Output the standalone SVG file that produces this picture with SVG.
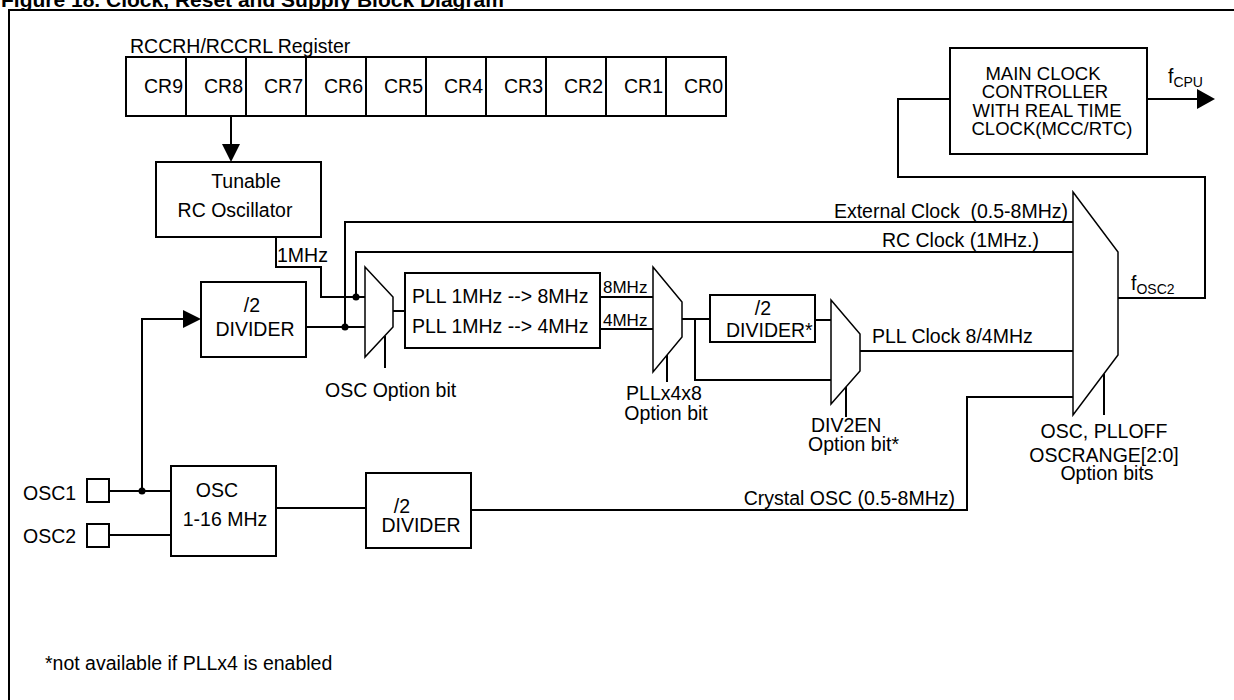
<svg xmlns="http://www.w3.org/2000/svg" width="1234" height="700" viewBox="0 0 1234 700">
<defs>
<style>
text{font-family:"Liberation Sans",Arial,Helvetica,sans-serif;font-size:19.5px;fill:#000}
.box{fill:#fff;stroke:#000;stroke-width:2}
.mux{fill:#fff;stroke:#000;stroke-width:1.5}
.w{fill:none;stroke:#000;stroke-width:2}
.dot{fill:#000}
.head{fill:#000}
.small{font-size:17px}
.sub{font-size:14px}
.mcc{font-size:18.5px}
.mid{text-anchor:middle}
.end{text-anchor:end}
</style>
</defs>
<rect x="0" y="0" width="1234" height="700" fill="#fff"/>
<text x="1" y="7" style="font-weight:bold;font-size:21px">Figure 18. Clock, Reset and Supply Block Diagram</text>
<rect x="9" y="10" width="1240" height="700" fill="none" stroke="#000" stroke-width="2"/>

<g id="connectors">
  <path class="w" d="M231,116 V146"/>
  <polygon class="head" points="222,144 240,144 231,162"/>
  <path class="w" d="M276,237 V267 H321 V297 H365"/>
  <path class="w" d="M356,297 V252 H1073"/>
  <path class="w" d="M345,327 V222 H1073"/>
  <path class="w" d="M306,327 H365"/>
  <circle class="dot" cx="356" cy="297" r="3.5"/>
  <circle class="dot" cx="345" cy="327" r="3.5"/>
  <path class="w" d="M142,491 V319 H186"/>
  <polygon class="head" points="183,310 183,328 201,319"/>
  <circle class="dot" cx="142" cy="491" r="3.5"/>
  <path class="w" d="M109,491 H171"/>
  <path class="w" d="M109,535 H171"/>
  <path class="w" d="M276,508 H366"/>
  <path class="w" d="M471,510 H967 V397 H1073"/>
  <path class="w" d="M393,311 H405"/>
  <path class="w" d="M385,336 V368"/>
  <path class="w" d="M600,297 H653"/>
  <path class="w" d="M600,329 H653"/>
  <path class="w" d="M667,355 V382"/>
  <path class="w" d="M682,319 H710"/>
  <path class="w" d="M695,319 V380 H831"/>
  <path class="w" d="M815,320 H831"/>
  <path class="w" d="M846,387 V417"/>
  <path class="w" d="M860,351 H1073"/>
  <path class="w" d="M1104,374 V415"/>
  <path class="w" d="M1118,298 H1205 V177 H898 V99 H950"/>
  <path class="w" d="M1147,99 H1200"/>
  <polygon class="head" points="1197,89 1197,109 1215,99"/>
</g>

<g id="register">
  <text x="130" y="53">RCCRH/RCCRL Register</text>
  <rect class="box" x="126" y="57" width="600" height="59"/>
  <path class="w" d="M186,57V116M246,57V116M306,57V116M366,57V116M426,57V116M486,57V116M546,57V116M606,57V116M666,57V116"/>
  <text class="end" x="183" y="93">CR9</text>
  <text class="end" x="243" y="93">CR8</text>
  <text class="end" x="303" y="93">CR7</text>
  <text class="end" x="363" y="93">CR6</text>
  <text class="end" x="423" y="93">CR5</text>
  <text class="end" x="483" y="93">CR4</text>
  <text class="end" x="543" y="93">CR3</text>
  <text class="end" x="603" y="93">CR2</text>
  <text class="end" x="663" y="93">CR1</text>
  <text class="end" x="723" y="93">CR0</text>
</g>

<g id="tunable-rc">
  <rect class="box" x="156" y="162" width="165" height="75"/>
  <text class="mid" x="246" y="188">Tunable</text>
  <text class="mid" x="235" y="217">RC Oscillator</text>
  <text x="277" y="262">1MHz</text>
</g>

<g id="divider-top">
  <rect class="box" x="201" y="282" width="105" height="75"/>
  <text class="mid" x="252" y="312">/2</text>
  <text class="mid" x="255" y="336">DIVIDER</text>
</g>

<g id="mux-osc">
  <polygon class="mux" points="365,267 393,297 393,327 365,357"/>
  <text x="325" y="397">OSC Option bit</text>
</g>

<g id="pll">
  <rect class="box" x="405" y="273" width="195" height="75"/>
  <text x="412" y="303">PLL 1MHz --&gt; 8MHz</text>
  <text x="412" y="333">PLL 1MHz --&gt; 4MHz</text>
  <text class="small" x="603" y="293">8MHz</text>
  <text class="small" x="603" y="326">4MHz</text>
</g>

<g id="mux-pll">
  <polygon class="mux" points="653,267 682,302 682,337 653,372"/>
  <text class="mid" x="664" y="400">PLLx4x8</text>
  <text class="mid" x="666" y="420">Option bit</text>
</g>

<g id="divider-pll">
  <rect class="box" x="710" y="295" width="105" height="47"/>
  <text class="mid" x="763" y="315">/2</text>
  <text x="726" y="337">DIVIDER*</text>
</g>

<g id="mux-div2">
  <polygon class="mux" points="831,300 860,334 860,371 831,404"/>
  <text x="811" y="432">DIV2EN</text>
  <text x="808" y="451">Option bit*</text>
  <text x="872" y="343">PLL Clock 8/4MHz</text>
</g>

<g id="mux-main">
  <polygon class="mux" points="1073,192 1118,252 1118,355 1073,415"/>
  <text class="end" x="1068" y="218" xml:space="preserve">External Clock  (0.5-8MHz)</text>
  <text class="end" x="1039" y="247">RC Clock (1MHz.)</text>
  <text x="1131" y="290">f<tspan class="sub" dy="4">OSC2</tspan></text>
  <text class="mid" x="1104" y="438">OSC, PLLOFF</text>
  <text class="mid" x="1104" y="462">OSCRANGE[2:0]</text>
  <text class="mid" x="1107" y="480">Option bits</text>
</g>

<g id="mcc">
  <rect class="box" x="950" y="48" width="197" height="106"/>
  <text class="mid mcc" x="1043" y="80">MAIN CLOCK</text>
  <text class="mid mcc" x="1045" y="98">CONTROLLER</text>
  <text class="mid mcc" x="1047" y="117">WITH REAL TIME</text>
  <text class="mid mcc" x="1052" y="135">CLOCK(MCC/RTC)</text>
  <text x="1168" y="83">f<tspan class="sub" dy="4">CPU</tspan></text>
</g>

<g id="osc1-pin">
  <text x="23" y="500">OSC1</text>
  <rect class="box" x="87" y="479" width="22" height="23"/>
</g>
<g id="osc2-pin">
  <text x="23" y="543">OSC2</text>
  <rect class="box" x="87" y="524" width="22" height="23"/>
</g>

<g id="osc">
  <rect class="box" x="171" y="466" width="105" height="90"/>
  <text class="mid" x="217" y="497">OSC</text>
  <text class="mid" x="225" y="526">1-16 MHz</text>
</g>

<g id="divider-osc">
  <rect class="box" x="366" y="473" width="105" height="75"/>
  <text class="mid" x="402" y="513">/2</text>
  <text class="mid" x="421" y="532">DIVIDER</text>
  <text class="end" x="955" y="505">Crystal OSC (0.5-8MHz)</text>
</g>

<text x="45" y="670">*not available if PLLx4 is enabled</text>
</svg>
